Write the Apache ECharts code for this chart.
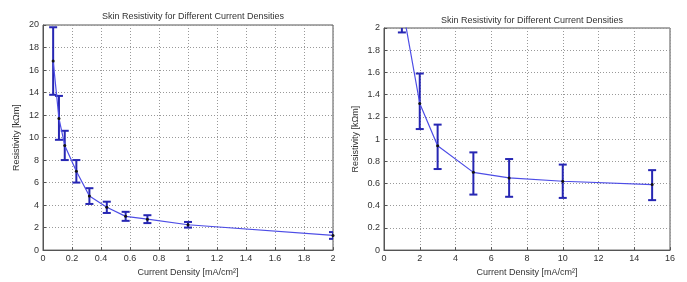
<!DOCTYPE html>
<html><head><meta charset="utf-8">
<script src="https://cdn.jsdelivr.net/npm/echarts@6/dist/echarts.min.js"></script>
<style>html,body{margin:0;padding:0;background:#fff}#c{width:687px;height:282px}</style>
</head><body><div id="c"></div>
<script>
// Left chart data
const leftX    = [0.07, 0.11, 0.15, 0.23, 0.32, 0.44, 0.57, 0.72, 1.0, 2.0];
const leftY    = [16.8, 11.7, 9.3, 7.0, 4.8, 3.8, 3.0, 2.75, 2.25, 1.3];
const leftLow  = [13.8, 9.8, 8.0, 6.0, 4.1, 3.3, 2.6, 2.4, 2.0, 1.0];
const leftHigh = [19.8, 13.7, 10.6, 8.0, 5.5, 4.3, 3.4, 3.1, 2.5, 1.6];
// Right chart data
const rightX    = [1, 2, 3, 5, 7, 10, 15];
const rightY    = [2.22, 1.32, 0.94, 0.70, 0.65, 0.62, 0.59];
const rightLow  = [1.96, 1.09, 0.73, 0.50, 0.48, 0.47, 0.45];
const rightHigh = [2.48, 1.59, 1.13, 0.88, 0.82, 0.77, 0.72];
const leftXTicks = [0, 0.2, 0.4, 0.6, 0.8, 1, 1.2, 1.4, 1.6, 1.8, 2];
const rightYTicks = [0, 0.2, 0.4, 0.6, 0.8, 1, 1.2, 1.4, 1.6, 1.8, 2];

const titleText = 'Skin Resistivity for Different Current Densities';
const xName = 'Current Density [mA/cm²]';
const yName = 'Resistivity [kΩm]';

function pairs(xs, ys){ return xs.map((x,i)=>[x, ys[i]]); }
function errData(xs, lo, hi){ return xs.map((x,i)=>[x, lo[i], hi[i]]); }

const txt = {color:'#333', fontSize:9, fontFamily:'Liberation Sans, Arial, sans-serif'};
const lineColor = '#4d4de6';
const barColor = '#2626b3';

function renderErr(capHalf){
  return function(params, api){
    const x = api.value(0), lo = api.value(1), hi = api.value(2);
    const pLo = api.coord([x, lo]);
    const pHi = api.coord([x, hi]);
    const st = {stroke: barColor, lineWidth: 2};
    return {type:'group', children:[
      {type:'line', shape:{x1:pLo[0], y1:pLo[1], x2:pHi[0], y2:pHi[1]}, style:st},
      {type:'line', shape:{x1:pLo[0]-capHalf, y1:pLo[1], x2:pLo[0]+capHalf, y2:pLo[1]}, style:st},
      {type:'line', shape:{x1:pHi[0]-capHalf, y1:pHi[1], x2:pHi[0]+capHalf, y2:pHi[1]}, style:st}
    ]};
  };
}

function axisCommon(){
  return {
    axisLine:{show:true, onZero:false, lineStyle:{color:'#555', width:1}},
    axisTick:{show:true, inside:true, length:3, lineStyle:{color:'#555'}},
    axisLabel:Object.assign({margin:4}, txt),
    splitLine:{show:true, lineStyle:{color:'#999', type:[1,2], width:1}},
    nameTextStyle: Object.assign({}, txt)
  };
}

const chart = echarts.init(document.getElementById('c'), null, {renderer:'canvas'});
chart.setOption({
  backgroundColor:'#fff',
  animation:false,
  title:[
    {text:titleText, left:188, top:7, textAlign:'center', textStyle:Object.assign({}, txt, {fontWeight:'normal', fontSize:9})},
    {text:titleText, left:527, top:11, textAlign:'center', textStyle:Object.assign({}, txt, {fontWeight:'normal', fontSize:9})}
  ],
  grid:[
    {left:43, right:354, top:25, bottom:29, show:true, borderColor:'#555', borderWidth:1, backgroundColor:'#fff'},
    {left:384, right:17, top:28, bottom:29, show:true, borderColor:'#555', borderWidth:1, backgroundColor:'#fff'}
  ],
  xAxis:[
    Object.assign(axisCommon(), {type:'value', gridIndex:0, min:0, max:2, interval:0.2,
      name:xName, nameLocation:'middle', nameGap:15}),
    Object.assign(axisCommon(), {type:'value', gridIndex:1, min:0, max:16, interval:2,
      name:xName, nameLocation:'middle', nameGap:15})
  ],
  yAxis:[
    Object.assign(axisCommon(), {type:'value', gridIndex:0, min:0, max:20, interval:2,
      name:yName, nameLocation:'middle', nameGap:22}),
    Object.assign(axisCommon(), {type:'value', gridIndex:1, min:0, max:2, interval:0.2,
      name:yName, nameLocation:'middle', nameGap:24})
  ],
  series:[
    {type:'line', xAxisIndex:0, yAxisIndex:0, data:pairs(leftX,leftY), smooth:false,
      symbol:'circle', symbolSize:3, itemStyle:{color:'#111'}, lineStyle:{color:lineColor, width:1.2}, z:3},
    {type:'custom', xAxisIndex:0, yAxisIndex:0, data:errData(leftX,leftLow,leftHigh),
      renderItem:renderErr(4), clip:true, encode:{x:0, y:[1,2]}, z:2},
    {type:'line', xAxisIndex:1, yAxisIndex:1, data:pairs(rightX,rightY), smooth:false,
      symbol:'circle', symbolSize:3, itemStyle:{color:'#111'}, lineStyle:{color:lineColor, width:1.2}, z:3},
    {type:'custom', xAxisIndex:1, yAxisIndex:1, data:errData(rightX,rightLow,rightHigh),
      renderItem:renderErr(4), clip:true, encode:{x:0, y:[1,2]}, z:2}
  ]
});
</script></body></html>
